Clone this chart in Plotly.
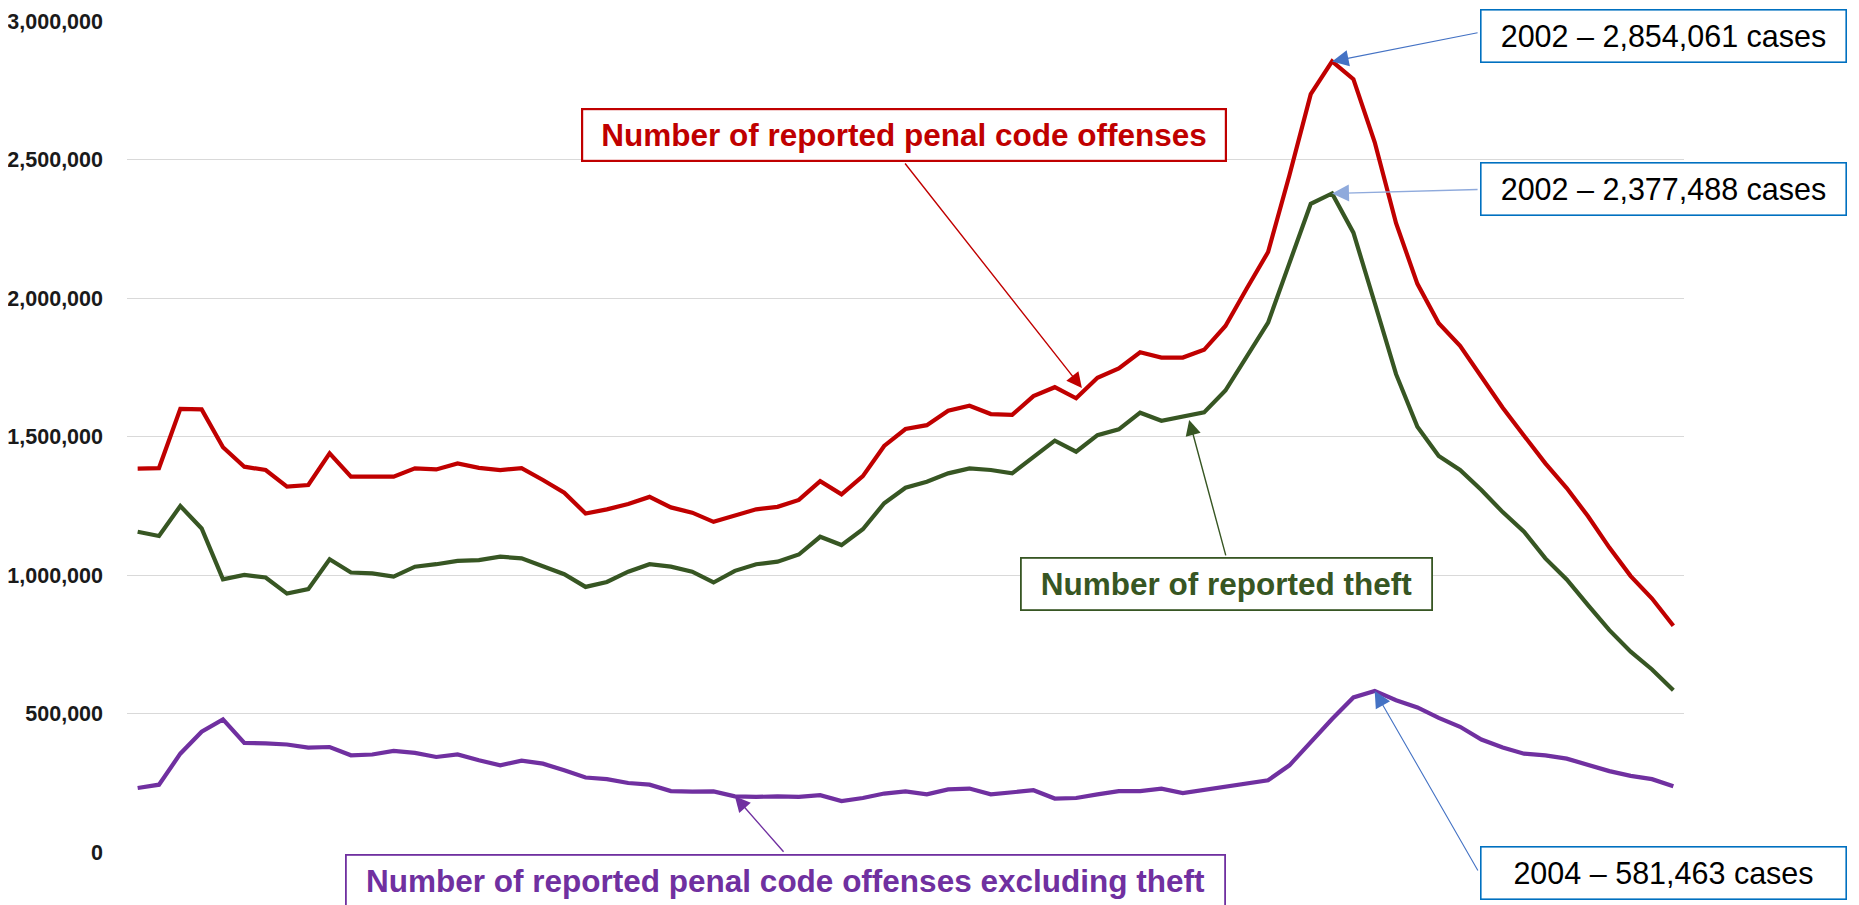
import plotly.graph_objects as go

# ---------------- data ----------------
years = list(range(1946, 2019))

penal_total = [
    1384222, 1386020, 1599968, 1597891, 1461044, 1391000, 1379000, 1319000, 1325000, 1439000,
    1355000, 1356000, 1355000, 1385000, 1381000, 1403000, 1387000, 1379000, 1386000, 1343000,
    1297000, 1222000, 1237000, 1256000, 1282000, 1244000, 1225000, 1192000, 1214000, 1237000,
    1246000, 1271000, 1339000, 1291000, 1357000, 1466000, 1527000, 1541000, 1593000, 1611000,
    1581000, 1578000, 1646000, 1678000, 1638000, 1712000, 1746000, 1804000, 1785000, 1785000,
    1813000, 1899000, 2034000, 2166000, 2443000, 2736000, 2854061, 2790000, 2562000, 2270000,
    2051000, 1909000, 1827000, 1714000, 1604000, 1503000, 1403000, 1314000, 1212000, 1099000,
    996000, 915000, 817000,
]

theft = [
    1156000, 1141000, 1249000, 1168000, 984000, 1000000, 991000, 933000, 949000, 1057000,
    1009000, 1006000, 994000, 1030000, 1039000, 1051000, 1054000, 1066000, 1060000, 1030000,
    1003000, 957000, 975000, 1012000, 1039000, 1030000, 1012000, 973000, 1015000, 1039000,
    1048000, 1074000, 1138000, 1108000, 1165000, 1259000, 1315000, 1337000, 1367000, 1385000,
    1379000, 1367000, 1427000, 1485000, 1445000, 1505000, 1526000, 1586000, 1557000, 1572000,
    1587000, 1666000, 1788000, 1911000, 2126000, 2340000, 2377488, 2236000, 1982000, 1725000,
    1535000, 1430000, 1379000, 1307000, 1227000, 1156000, 1060000, 984000, 891000, 801000,
    723000, 659000, 584000,
]

excl_theft = [
    231000, 243000, 355000, 434000, 479000, 394000, 392000, 388000, 377000, 379000,
    349000, 352000, 365000, 358000, 343000, 352000, 331000, 313000, 330000, 319000,
    295000, 269000, 263000, 249000, 243000, 220000, 218000, 219000, 201000, 199000,
    201000, 199000, 205000, 184000, 195000, 211000, 219000, 208000, 226000, 229000,
    208000, 217000, 223000, 193000, 195000, 208000, 220000, 220000, 229000, 213000,
    225000, 237000, 247000, 259000, 313000, 399000, 480000, 558000, 581463, 548000,
    522000, 484000, 452000, 406000, 377000, 355000, 349000, 337000, 316000, 292000,
    275000, 263000, 237000,
]

y_ticks = [0, 500000, 1000000, 1500000, 2000000, 2500000, 3000000]

label_total = "Number of reported penal code offenses"
label_theft = "Number of reported theft"
label_excl = "Number of reported penal code offenses excluding theft"

RED = "#C00000"
GREEN = "#375623"
PURPLE = "#7030A0"
BLUE_BOX = "#0070C0"
BLUE_ARROW = "#4472C4"

# ---------------- layout geometry ----------------
W, H = 1859, 905
OFF = 8  # page offset of the figure (body margin)
L, R, T, B = 119, 183, 13, 61
PW, PH = W - L - R, H - T - B


def px_x(px):  # page pixel -> paper
    return (px - OFF - L) / PW


def px_y(py):
    return (H - B - (py - OFF)) / PH


fig = go.Figure()
for vals, col, name in [
    (excl_theft, PURPLE, label_excl),
    (theft, GREEN, label_theft),
    (penal_total, RED, label_total),
]:
    fig.add_trace(go.Scatter(
        x=years, y=vals, mode="lines", name=name,
        line=dict(color=col, width=4.2),
        hoverinfo="skip",
    ))

annotations = []

# ---- arrows (drawn first, boxes on top) ----
i2002 = years.index(2002)
i2004 = years.index(2004)


def arrow(x, y, ax, ay, color, width, size):
    annotations.append(dict(
        x=x, y=y, xref="x", yref="y", ax=ax, ay=ay, axref="pixel", ayref="pixel",
        text="", showarrow=True, arrowhead=2, arrowwidth=width, arrowsize=size,
        arrowcolor=color, standoff=0, startstandoff=0,
    ))


arrow(1990.27, 1675000, -178, -226, RED, 1.4, 2.2)
arrow(1995.3, 1560000, 37, 137, GREEN, 1.4, 2.2)
arrow(1974, excl_theft[years.index(1974)], 50, 57, PURPLE, 1.4, 2.2)
arrow(2002, penal_total[i2002], 147, -29, BLUE_ARROW, 1.1, 3)
arrow(2002, theft[i2002], 147, -4, "#8FAADC", 1.3, 2.6)
arrow(2004, excl_theft[i2004], 104, 181, BLUE_ARROW, 1.1, 3)


# ---- text boxes (page pixel coordinates) ----
def box(text, x0, x1, y0, y1, color, border, bw, size, bold=True, textcolor=None):
    annotations.append(dict(
        x=px_x((x0 + x1) / 2), y=px_y((y0 + y1) / 2), xref="paper", yref="paper",
        xanchor="center", yanchor="middle", showarrow=False,
        text=text, align="center",
        width=(x1 - x0) - 2 * bw, height=(y1 - y0) - 2 * bw,
        borderpad=0, borderwidth=bw, bordercolor=border, bgcolor="white",
        font=dict(family="Liberation Sans", size=size, color=textcolor or color,
                  weight="bold" if bold else "normal"),
    ))


box(label_total, 581, 1227, 108, 162, RED, RED, 2.2, 31.5)
box(label_theft, 1020, 1433, 557, 611, GREEN, GREEN, 1.8, 31.5)
box(label_excl, 345, 1226, 854, 908, PURPLE, PURPLE, 1.8, 31.5)

box(f"2002 – {penal_total[i2002]:,} cases", 1480, 1847, 9, 63, BLUE_BOX, BLUE_BOX, 1.6, 30.5,
    bold=False, textcolor="#000000")
box(f"2002 – {theft[i2002]:,} cases", 1480, 1847, 162, 216, BLUE_BOX, BLUE_BOX, 1.6, 30.5,
    bold=False, textcolor="#000000")
box(f"2004 – {excl_theft[i2004]:,} cases", 1480, 1847, 846, 900, BLUE_BOX, BLUE_BOX, 1.6, 30.5,
    bold=False, textcolor="#000000")

fig.update_layout(
    template="none",
    width=W, height=H,
    margin=dict(l=L, r=R, t=T, b=B, autoexpand=False),
    paper_bgcolor="white", plot_bgcolor="white",
    showlegend=False, hovermode=False,
    annotations=annotations,
    xaxis=dict(
        range=[years[0] - 0.5, years[-1] + 0.5], automargin=False,
        showgrid=False, zeroline=False, showline=False,
        showticklabels=False, ticks="", fixedrange=True,
    ),
    yaxis=dict(
        range=[0, 3000000], automargin=False,
        tickvals=y_ticks, tickformat=",d",
        showgrid=True, gridcolor="#D9D9D9", gridwidth=1.3,
        zeroline=False, showline=False, ticks="",
        ticklabelstandoff=23,
        tickfont=dict(family="Liberation Sans", size=21.5, color="#1A1A1A", weight="bold"),
        fixedrange=True,
    ),
)

fig.write_html("out.html", config={"displayModeBar": False})
